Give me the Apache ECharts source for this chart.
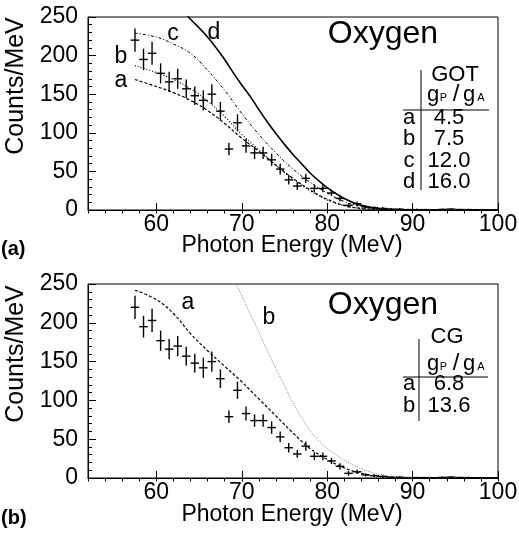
<html>

<head>
  <script src="https://cdn.jsdelivr.net/npm/echarts@6/dist/echarts.min.js"></script>
</head>

<body style="margin:0;background:#fff">
  <div id="main" style="width: 519px;height:538px;"></div>
  <script>
    // measured spectrum (same points in both panels)
    var binE = [57.5, 58.5, 59.5, 60.5, 61.5, 62.5, 63.5, 64.5, 65.5, 66.5, 67.5, 68.5, 69.5, 70.5, 71.5, 72.5,
      73.5, 74.5, 75.5, 76.5, 77.5, 78.5, 79.5, 80.5, 81.5, 82.5, 83.5, 84.5, 85.5, 86.5, 87.5, 88.5, 89.5,
      90.5, 91.5, 92.5, 93.5, 94.5, 95.5, 96.5, 97.5, 98.5, 99.5];
    var counts = [220, 195, 203, 177, 166, 170, 157, 148, 142, 150, 128, 79, 113, 83, 74, 74,
      65, 53, 39, 31, 41, 28, 28, 22, 15, 6, 8, 4, 3, 2, 1, 1, 0.5,
      0.5, 0.5, 0.3, 0.8, 1.2, 0.6, 0.5, 0.4, 0.3, 0.2];
    var errs = [15, 14, 15, 13, 13, 13, 12, 12, 13, 13, 12, 8, 11, 9, 8, 8,
      8, 7, 6, 5, 6, 5, 5, 4, 4, 3, 3, 2, 2, 2, 1.5, 1.5, 1,
      1, 1, 1, 1, 1, 1, 1, 1, 1, 1];

    // GOT curves (top panel)
    var gotE_a = [57.5, 60, 62, 64, 66, 68, 70, 72, 74, 76, 78, 80, 82, 84, 86, 88];
    var gotA = [169, 160, 152, 142, 129, 112, 93, 76, 58, 41, 26, 14, 6, 2, 0.6, 0.2];
    var gotE_b = [57.5, 60, 62, 64, 66, 68, 70, 72, 74, 76, 78, 80, 82, 84, 86, 88];
    var gotB = [187, 178, 169, 157, 141, 121, 98, 78, 58, 40, 25, 13, 5.5, 2, 0.6, 0.2];
    var gotE_c = [57.5, 60, 62, 64, 66, 68, 70, 72, 74, 76, 78, 80, 82, 84, 86, 88];
    var gotC = [229, 224, 215, 203, 181, 155, 125, 98, 74, 53, 36, 22, 11, 4.5, 1.5, 0.4];
    var gotE_d = [62, 63, 64, 65, 66, 67, 68, 69, 70, 71, 72, 73, 74, 75, 76, 77, 78, 79, 80, 82, 84, 86, 88, 90];
    var gotD = [272, 260, 247, 236, 224, 210, 195, 178, 162, 147, 130, 114, 99, 85, 72, 60, 48, 38, 29, 15, 6, 2, 0.5, 0.1];

    // CG curves (bottom panel)
    var cgE_a = [57.5, 60, 62, 64, 66, 68, 70, 72, 74, 76, 78, 80, 82, 84, 86, 88, 90];
    var cgA = [242, 230, 212, 186, 164, 144, 124, 102, 80, 58, 38, 24, 13, 6, 2.3, 0.8, 0.2];
    var cgE_b = [68, 69, 70, 71, 72, 73, 74, 75, 76, 77, 78, 79, 80, 81, 82, 83, 84, 85, 86, 87, 88, 90];
    var cgB = [283, 259, 235, 211, 188, 164, 141, 119, 97, 78, 61, 48, 38, 30, 23, 17, 12, 8, 5, 3, 1.8, 0.5];

    var majorX = [60, 70, 80, 90, 100];
    // y labels split over two overlaid axes so none of them gets dropped
    var labelsY1 = [50, 150, 250];
    var labelsY2 = [0, 100, 200];
    var gotRows = [['a', '4.5'], ['b', '7.5'], ['c', '12.0'], ['d', '16.0']];
    var cgRows = [['a', '6.8'], ['b', '13.6']];

    var FONT = 'Liberation Sans, Arial, sans-serif';
    var myChart = echarts.init(document.getElementById('main'));

    function zip(xs, ys) {
      return xs.map((x, i) => [x, ys[i]]);
    }

    function renderErr(params, api) {
      const x = api.value(0), y = api.value(1), e = api.value(2);
      const c = api.coord([x, y]);
      const lo = api.coord([x, y - e]);
      const hi = api.coord([x, y + e]);
      const l = api.coord([x - 0.5, y]);
      const r = api.coord([x + 0.5, y]);
      const st = { stroke: '#000', lineWidth: 1.4 };
      return {
        type: 'group',
        children: [
          { type: 'line', shape: { x1: lo[0], y1: lo[1], x2: hi[0], y2: hi[1] }, style: st },
          { type: 'line', shape: { x1: l[0], y1: c[1], x2: r[0], y2: c[1] }, style: st }
        ]
      };
    }

    function xAxes(grid) {
      return [{
        gridIndex: grid, type: 'value', min: 52, max: 100,
        axisLine: { lineStyle: { color: '#000', width: 1 } },
        axisTick: { inside: true, length: 7, customValues: majorX, lineStyle: { color: '#000' } },
        axisLabel: { customValues: majorX, color: '#000', fontSize: 23, fontFamily: FONT, margin: -5 },
        splitLine: { show: false }
      }, {
        gridIndex: grid, type: 'value', min: 52, max: 100, interval: 2,
        axisLine: { show: false },
        axisTick: { inside: true, length: 3.5, lineStyle: { color: '#000' } },
        axisLabel: { show: false },
        splitLine: { show: false }
      }];
    }

    function yAxes(grid) {
      var lab = { showMinLabel: true, showMaxLabel: true, color: '#000', fontSize: 23, fontFamily: FONT, margin: 10 };
      return [{
        gridIndex: grid, type: 'value', position: 'left', min: 0, max: 250, interval: 50,
        axisLine: { show: true, lineStyle: { color: '#000', width: 1 } },
        axisTick: { show: true, inside: true, length: 8, lineStyle: { color: '#000' } },
        minorTick: { show: true, splitNumber: 5, length: 4, lineStyle: { color: '#000' } },
        axisLabel: Object.assign({ customValues: labelsY1 }, lab),
        splitLine: { show: false }
      }, {
        gridIndex: grid, type: 'value', position: 'left', offset: 0, min: 0, max: 250, interval: 50,
        axisLine: { show: false },
        axisTick: { show: false },
        axisLabel: Object.assign({ customValues: labelsY2 }, lab),
        splitLine: { show: false }
      }];
    }

    function curve(name, xs, ys, xi, yi, style) {
      return {
        name: name, type: 'line', xAxisIndex: xi, yAxisIndex: yi,
        data: zip(xs, ys), showSymbol: false, smooth: 0.4, clip: true,
        lineStyle: style, silent: true
      };
    }

    function pts(xi, yi) {
      return {
        type: 'custom', xAxisIndex: xi, yAxisIndex: yi, clip: true, silent: true,
        renderItem: renderErr,
        data: binE.map((x, i) => [x, counts[i], errs[i]])
      };
    }

    function txt(x, y, s, size, styleExtra, elExtra) {
      return Object.assign({
        type: 'text', x: x, y: y,
        style: Object.assign({ text: s, fontSize: size, fontFamily: FONT, fill: '#000', align: 'center', verticalAlign: 'middle' }, styleExtra || {})
      }, elExtra || {});
    }

    // g_P / g_A header, baseline at y
    function ratioText(x, base) {
      return [
        txt(x - 22, base - 7.5, 'g', 22),
        txt(x - 11.5, base - 4, 'P', 11),
        txt(x + 1, base - 7.5, '/', 24),
        txt(x + 14, base - 7.5, 'g', 22),
        txt(x + 26, base - 4, 'A', 11)
      ];
    }

    function line(x1, y1, x2, y2) {
      return { type: 'line', shape: { x1: x1, y1: y1, x2: x2, y2: y2 }, style: { stroke: '#000', lineWidth: 1 } };
    }

    var tagStyle = { align: 'left', fontWeight: 'bold' };
    var graphics = [
      // top panel
      txt(383, 34, 'Oxygen', 32),
      txt(173, 34, 'c', 23), txt(214, 33, 'd', 23), txt(121, 57, 'b', 23), txt(121, 81, 'a', 23),
      txt(455, 75, 'GOT', 22),
      line(403, 110, 489, 110), line(421, 70, 421, 190),
      txt(16, 86, 'Counts/MeV', 25, {}, { rotation: Math.PI / 2 }),
      txt(292, 246, 'Photon Energy (MeV)', 23),
      txt(1, 249, '(a)', 20, tagStyle),
      // bottom panel
      txt(383, 305, 'Oxygen', 32),
      txt(188, 303, 'a', 23), txt(269, 318, 'b', 23),
      txt(447, 337, 'CG', 22),
      line(403, 377, 488, 377), line(419, 339, 419, 421),
      txt(16, 354, 'Counts/MeV', 25, {}, { rotation: Math.PI / 2 }),
      txt(292, 515, 'Photon Energy (MeV)', 23),
      txt(1, 518, '(b)', 20, tagStyle)
    ].concat(ratioText(455, 102), ratioText(455, 371));

    gotRows.forEach((r, i) => {
      var y = 117.5 + i * 21.5;
      graphics.push(txt(409, y, r[0], 22), txt(449, y, r[1], 22));
    });
    cgRows.forEach((r, i) => {
      var y = 384 + i * 22;
      graphics.push(txt(409, y, r[0], 22), txt(449, y, r[1], 22));
    });

    option = {
      animation: false,
      backgroundColor: '#fff',
      grid: [
        { left: 88, top: 17, width: 410, height: 193, outerBoundsMode: 'none', show: true, borderColor: '#000', borderWidth: 1 },
        { left: 88, top: 284, width: 410, height: 194, outerBoundsMode: 'none', show: true, borderColor: '#000', borderWidth: 1 }
      ],
      xAxis: xAxes(0).concat(xAxes(1)),
      yAxis: yAxes(0).concat(yAxes(1)),
      series: [
        curve('a', gotE_a, gotA, 0, 0, { color: '#000', width: 1.2, type: [3, 2] }),
        curve('b', gotE_b, gotB, 0, 0, { color: '#000', width: 1.2, type: [1, 2] }),
        curve('c', gotE_c, gotC, 0, 0, { color: '#000', width: 1, type: [3, 2, 1, 2] }),
        curve('d', gotE_d, gotD, 0, 0, { color: '#000', width: 1.6, type: 'solid' }),
        pts(0, 0),
        curve('a', cgE_a, cgA, 2, 2, { color: '#000', width: 1.2, type: [3, 2] }),
        curve('b', cgE_b, cgB, 2, 2, { color: '#777', width: 1, type: [1, 1.5] }),
        pts(2, 2)
      ],
      graphic: graphics
    };

    myChart.setOption(option);

  </script>
</body>

</html>
